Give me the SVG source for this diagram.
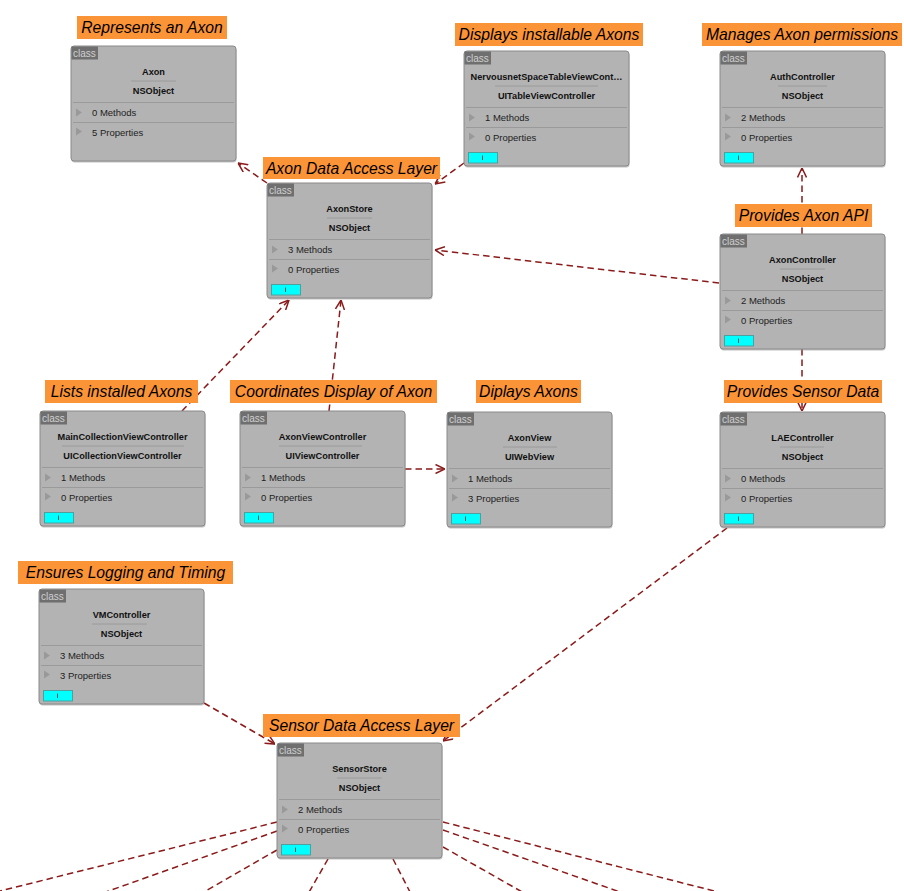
<svg xmlns="http://www.w3.org/2000/svg" xmlns:xlink="http://www.w3.org/1999/xlink" width="904" height="891" viewBox="0 0 904 891">
<style>
.bx{fill:#b3b3b3;stroke:#8a8a8a;stroke-width:1}
.sh{fill:#8f8f8f;opacity:.55}
.tab{fill:#6f6f6f}
.sep{stroke:#9a9a9a;stroke-width:1}
.tri{fill:#999999}
.cls{font-family:"Liberation Sans",Arial,sans-serif;font-size:10px;fill:#cfcfcf}
.nm{font-family:"Liberation Sans",Arial,sans-serif;font-size:9.2px;font-weight:bold;fill:#111;text-anchor:middle}
.it{font-family:"Liberation Sans",Arial,sans-serif;font-size:9.5px;fill:#222}
.lb{fill:#fb9436}
.lt{font-family:"Liberation Sans",Arial,sans-serif;font-size:15.7px;font-style:italic;fill:#000;text-anchor:middle}
.btn{fill:#00ffff;stroke:#4f9f9f;stroke-width:1}
.tick{stroke:#333;stroke-width:.8}
.cn{fill:none;stroke:#8b1a1a;stroke-width:1.5;stroke-dasharray:6.5,4}
</style>
<defs>
<marker id="arr" viewBox="0 0 10 10" refX="10" refY="5" markerWidth="10" markerHeight="10" markerUnits="userSpaceOnUse" orient="auto">
<path d="M0.5,0.5 L10,5 L0.5,9.5" fill="none" stroke="#8b1a1a" stroke-width="1.5" stroke-dasharray="none"/>
</marker>
<g id="box">
<rect class="sh" x="0.5" y="1.5" width="165" height="115" rx="3"/>
<rect class="bx" x="0" y="0" width="165" height="115" rx="3"/>
<rect class="tab" x="0.5" y="0.5" width="26.5" height="13"/>
<line class="sep" x1="2" y1="56.5" x2="163" y2="56.5"/>
<line class="sep" x1="2" y1="76.5" x2="163" y2="76.5"/>
<path class="tri" d="M5,62.5 L11,66.5 L5,70.5 Z"/>
<path class="tri" d="M5,81.5 L11,85.5 L5,89.5 Z"/>
</g>
<g id="btn">
<rect class="btn" x="4.5" y="101.5" width="29" height="10.5"/>
<line class="tick" x1="18.5" y1="104.5" x2="18.5" y2="109"/>
</g>
</defs>
<rect width="904" height="891" fill="#ffffff"/>

<g id="connectors">
<line class="cn" x1="267" y1="183" x2="238" y2="163" marker-end="url(#arr)"/>
<line class="cn" x1="464" y1="163" x2="435" y2="184" marker-end="url(#arr)"/>
<line class="cn" x1="719" y1="283" x2="435" y2="250" marker-end="url(#arr)"/>
<line class="cn" x1="802" y1="234" x2="802" y2="168" marker-end="url(#arr)"/>
<line class="cn" x1="802" y1="349" x2="802" y2="411" marker-end="url(#arr)"/>
<line class="cn" x1="182" y1="411" x2="289" y2="300" marker-end="url(#arr)"/>
<line class="cn" x1="329" y1="411" x2="341" y2="300" marker-end="url(#arr)"/>
<line class="cn" x1="405" y1="469" x2="445" y2="469" marker-end="url(#arr)"/>
<line class="cn" x1="727" y1="528" x2="443" y2="741" marker-end="url(#arr)"/>
<line class="cn" x1="204" y1="703" x2="275" y2="744" marker-end="url(#arr)"/>
<line class="cn" x1="277" y1="822" x2="-8" y2="893"/>
<line class="cn" x1="277" y1="831" x2="103" y2="893"/>
<line class="cn" x1="277" y1="850" x2="202" y2="893"/>
<line class="cn" x1="328" y1="859" x2="308" y2="894"/>
<line class="cn" x1="393" y1="859" x2="411" y2="894"/>
<line class="cn" x1="443" y1="847" x2="524" y2="893"/>
<line class="cn" x1="443" y1="830" x2="623" y2="893"/>
<line class="cn" x1="443" y1="822" x2="722" y2="893"/>
</g>

<g id="n-axon" transform="translate(71,46)">
<rect class="lb" x="6" y="-30" width="150" height="23"/>
<text class="lt" x="81" y="-13">Represents an Axon</text>
<use xlink:href="#box" href="#box"/>
<text class="cls" x="2" y="10.5">class</text>
<text class="nm" x="82.5" y="29">Axon</text>
<line class="sep" x1="60" y1="35" x2="105" y2="35"/>
<text class="nm" x="82.5" y="48">NSObject</text>
<text class="it" x="21" y="70">0 Methods</text>
<text class="it" x="21" y="89.5">5 Properties</text>
</g>

<g id="n-nervousnet" transform="translate(464,51)">
<rect class="lb" x="-9" y="-28" width="188" height="23"/>
<text class="lt" x="85" y="-11">Displays installable Axons</text>
<use xlink:href="#box" href="#box"/>
<use xlink:href="#btn" href="#btn"/>
<text class="cls" x="2" y="10.5">class</text>
<text class="nm" x="82.5" y="29">NervousnetSpaceTableViewCont…</text>
<line class="sep" x1="31" y1="35" x2="134" y2="35"/>
<text class="nm" x="82.5" y="48">UITableViewController</text>
<text class="it" x="21" y="70">1 Methods</text>
<text class="it" x="21" y="89.5">0 Properties</text>
</g>

<g id="n-auth" transform="translate(720,51)">
<rect class="lb" x="-18" y="-28" width="200" height="23"/>
<text class="lt" x="82" y="-11">Manages Axon permissions</text>
<use xlink:href="#box" href="#box"/>
<use xlink:href="#btn" href="#btn"/>
<text class="cls" x="2" y="10.5">class</text>
<text class="nm" x="82.5" y="29">AuthController</text>
<line class="sep" x1="58" y1="35" x2="107" y2="35"/>
<text class="nm" x="82.5" y="48">NSObject</text>
<text class="it" x="21" y="70">2 Methods</text>
<text class="it" x="21" y="89.5">0 Properties</text>
</g>

<g id="n-axonstore" transform="translate(267,183)">
<rect class="lb" x="-4" y="-26" width="177" height="22"/>
<text class="lt" x="84.5" y="-9.5">Axon Data Access Layer</text>
<use xlink:href="#box" href="#box"/>
<use xlink:href="#btn" href="#btn"/>
<text class="cls" x="2" y="10.5">class</text>
<text class="nm" x="82.5" y="29">AxonStore</text>
<line class="sep" x1="60" y1="35" x2="105" y2="35"/>
<text class="nm" x="82.5" y="48">NSObject</text>
<text class="it" x="21" y="70">3 Methods</text>
<text class="it" x="21" y="89.5">0 Properties</text>
</g>

<g id="n-axoncontroller" transform="translate(720,234)">
<rect class="lb" x="15" y="-30" width="137" height="23"/>
<text class="lt" x="83.5" y="-13">Provides Axon API</text>
<use xlink:href="#box" href="#box"/>
<use xlink:href="#btn" href="#btn"/>
<text class="cls" x="2" y="10.5">class</text>
<text class="nm" x="82.5" y="29">AxonController</text>
<line class="sep" x1="60" y1="35" x2="105" y2="35"/>
<text class="nm" x="82.5" y="48">NSObject</text>
<text class="it" x="21" y="70">2 Methods</text>
<text class="it" x="21" y="89.5">0 Properties</text>
</g>

<g id="n-maincollection" transform="translate(40,411)">
<rect class="lb" x="5" y="-31" width="153" height="23"/>
<text class="lt" x="81.5" y="-14">Lists installed Axons</text>
<use xlink:href="#box" href="#box"/>
<use xlink:href="#btn" href="#btn"/>
<text class="cls" x="2" y="10.5">class</text>
<text class="nm" x="82.5" y="29">MainCollectionViewController</text>
<line class="sep" x1="22" y1="35" x2="144" y2="35"/>
<text class="nm" x="82.5" y="48">UICollectionViewController</text>
<text class="it" x="21" y="70">1 Methods</text>
<text class="it" x="21" y="89.5">0 Properties</text>
</g>

<g id="n-axonviewcontroller" transform="translate(240,411)">
<rect class="lb" x="-10" y="-31" width="207" height="23"/>
<text class="lt" x="93.5" y="-14">Coordinates Display of Axon</text>
<use xlink:href="#box" href="#box"/>
<use xlink:href="#btn" href="#btn"/>
<text class="cls" x="2" y="10.5">class</text>
<text class="nm" x="82.5" y="29">AxonViewController</text>
<line class="sep" x1="39" y1="35" x2="122" y2="35"/>
<text class="nm" x="82.5" y="48">UIViewController</text>
<text class="it" x="21" y="70">1 Methods</text>
<text class="it" x="21" y="89.5">0 Properties</text>
</g>

<g id="n-axonview" transform="translate(447,412)">
<rect class="lb" x="29" y="-32" width="105" height="23"/>
<text class="lt" x="81.5" y="-15">Diplays Axons</text>
<use xlink:href="#box" href="#box"/>
<use xlink:href="#btn" href="#btn"/>
<text class="cls" x="2" y="10.5">class</text>
<text class="nm" x="82.5" y="29">AxonView</text>
<line class="sep" x1="56" y1="35" x2="110" y2="35"/>
<text class="nm" x="82.5" y="48">UIWebView</text>
<text class="it" x="21" y="70">1 Methods</text>
<text class="it" x="21" y="89.5">3 Properties</text>
</g>

<g id="n-laecontroller" transform="translate(720,412)">
<rect class="lb" x="4" y="-32" width="158" height="23"/>
<text class="lt" x="83" y="-15">Provides Sensor Data</text>
<use xlink:href="#box" href="#box"/>
<use xlink:href="#btn" href="#btn"/>
<text class="cls" x="2" y="10.5">class</text>
<text class="nm" x="82.5" y="29">LAEController</text>
<line class="sep" x1="60" y1="35" x2="104" y2="35"/>
<text class="nm" x="82.5" y="48">NSObject</text>
<text class="it" x="21" y="70">0 Methods</text>
<text class="it" x="21" y="89.5">0 Properties</text>
</g>

<g id="n-vmcontroller" transform="translate(39,589)">
<rect class="lb" x="-21" y="-28" width="215" height="23"/>
<text class="lt" x="86.5" y="-11">Ensures Logging and Timing</text>
<use xlink:href="#box" href="#box"/>
<use xlink:href="#btn" href="#btn"/>
<text class="cls" x="2" y="10.5">class</text>
<text class="nm" x="82.5" y="29">VMController</text>
<line class="sep" x1="53" y1="35" x2="108" y2="35"/>
<text class="nm" x="82.5" y="48">NSObject</text>
<text class="it" x="21" y="70">3 Methods</text>
<text class="it" x="21" y="89.5">3 Properties</text>
</g>

<g id="n-sensorstore" transform="translate(277,743)">
<rect class="lb" x="-14" y="-29" width="197" height="23"/>
<text class="lt" x="84.5" y="-12">Sensor Data Access Layer</text>
<use xlink:href="#box" href="#box"/>
<use xlink:href="#btn" href="#btn"/>
<text class="cls" x="2" y="10.5">class</text>
<text class="nm" x="82.5" y="29">SensorStore</text>
<line class="sep" x1="60" y1="35" x2="105" y2="35"/>
<text class="nm" x="82.5" y="48">NSObject</text>
<text class="it" x="21" y="70">2 Methods</text>
<text class="it" x="21" y="89.5">0 Properties</text>
</g>
</svg>
